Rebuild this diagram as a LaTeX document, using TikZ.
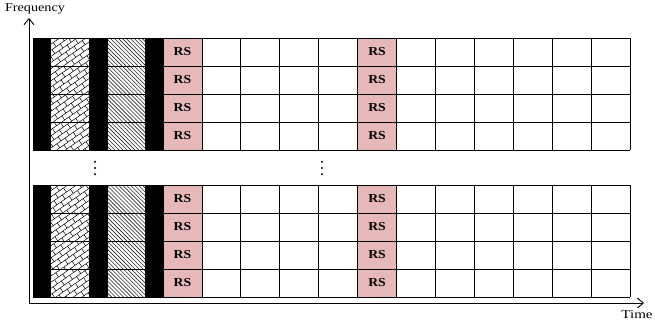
\documentclass[tikz,border=0pt]{standalone}
\usepackage{fontspec}
\setmainfont{Liberation Serif}
\usetikzlibrary{patterns,patterns.meta,arrows.meta}
\definecolor{rspink}{HTML}{E6B8B7}
\tikzdeclarepattern{
  name=diagbricks,
  type=uncolored,
  bottom left={(-.5pt,-.5pt)},
  top right={(10.5pt,10.5pt)},
  tile size={(10pt,10pt)},
  tile transformation={rotate=35},
  code={
    \draw[line width=0.5pt] (0pt,0pt) -- (10pt,0pt) (0pt,5pt) -- (10pt,5pt)
      (0pt,0pt) -- (0pt,5pt) (5pt,5pt) -- (5pt,10pt);
  }
}
\newcommand{\wide}[2]{\scalebox{#1}[1]{#2}}
\begin{document}
\begin{tikzpicture}[x=1pt,y=-1pt,
  gridline/.style={line width=0.8pt,draw=black},
  blackcol/.style={fill=black},
  brickcell/.style={pattern=diagbricks,pattern color=black},
  hatchcell/.style={pattern={Lines[angle=-45,distance=2.8pt,line width=0.6pt]},pattern color=black!85},
  rs/.style={draw=black,line width=0.8pt,fill=rspink,minimum width=38.9pt,minimum height=28pt,inner sep=0pt,
    font=\fontsize{12.2}{13}\selectfont\bfseries},
  axis/.style={line width=0.9pt,-{Straight Barb[length=6pt,width=10pt,line width=0.9pt]}},
  lbl/.style={font=\fontsize{12}{13}\selectfont,inner sep=0pt},
  vdot/.style={fill=black}]
\useasboundingbox (0,0) rectangle (655,324);
% two blocks of 4 rows
\foreach \top/\b in {38/a,185/b}{
  \pgfmathsetmacro\bot{\top+112}
  \fill[blackcol] (33,\top) rectangle (50.5,\bot);
  \fill[brickcell] (50.5,\top) rectangle (89,\bot);
  \fill[blackcol] (89,\top) rectangle (107,\bot);
  \fill[hatchcell] (107,\top) rectangle (145,\bot);
  \fill[blackcol] (145,\top) rectangle (163,\bot);
  % horizontal lines
  \foreach \r in {0,...,4}{
    \draw[gridline] (33,\top+28*\r) -- (630,\top+28*\r);
  }
  % vertical lines
  \foreach \xx in {33,50.5,89,107,145}{
    \draw[gridline] (\xx,\top) -- (\xx,\bot);
  }
  \foreach \i in {0,...,12}{
    \draw[gridline] (163+38.9167*\i,\top) -- (163+38.9167*\i,\bot);
  }
  % RS cells
  \foreach \r in {0,...,3}{
    \foreach \c in {0,5}{
      \node[rs] (rs-\b-\r-\c) at (163+38.9167*\c+19.4583,\top+28*\r+14) {\wide{1.12}{RS}};
    }
  }
}
% vertical ellipses
\foreach \yy in {161.8,168,174.2}{
  \fill[vdot] (95,\yy) circle (1.1pt);
  \fill[vdot] (322,\yy) circle (1.1pt);
}
% axes
\coordinate (O) at (29,303);
\coordinate (ytip) at (29,18);
\coordinate (xtip) at (644,303);
\draw[axis] (O) -- (ytip);
\draw[axis] (O) -- (xtip);
\node[lbl,anchor=base] (freq) at (35,11) {\wide{1.18}{Frequency}};
\node[lbl,anchor=base] (time) at (637,318) {\wide{1.25}{Time}};
\end{tikzpicture}
\end{document}
